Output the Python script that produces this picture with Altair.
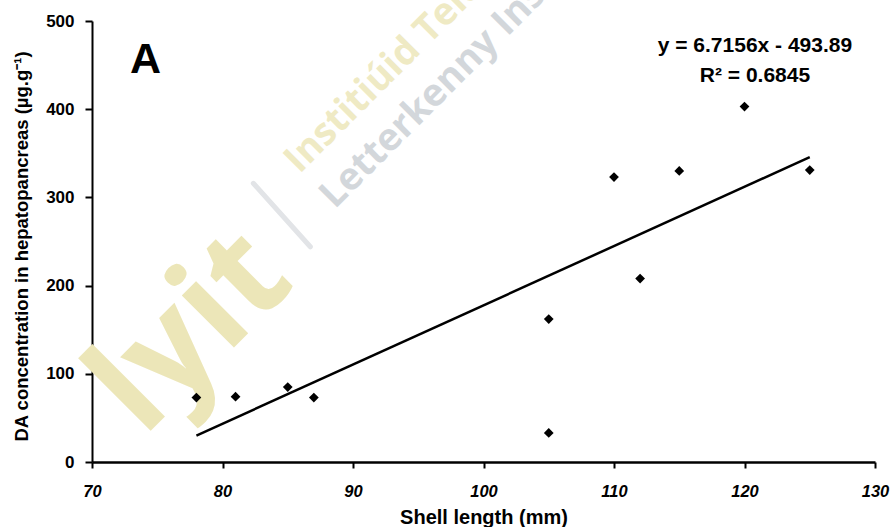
import altair as alt
import pandas as pd

# ---- data ----
shell_length = [78, 81, 85, 87, 105, 105, 110, 112, 115, 120, 125]
da_conc = [73, 74, 85, 73, 162, 33, 323, 208, 330, 403, 331]

# regression printed on the chart
slope, intercept = 6.7156, -493.89
fit_x = [78, 125]
fit_y = [slope * v + intercept for v in fit_x]

x_ticks = [70, 80, 90, 100, 110, 120, 130]
y_ticks = [0, 100, 200, 300, 400, 500]

eq_lines = ["y = 6.7156x - 493.89", "R² = 0.6845"]
eq_x = [120.8, 120.8]
eq_y = [465, 431]

panel_label = ["A"]
panel_x = [74.1]
panel_y = [441]

# watermark
wm_logo = ["lyit"]
wm_logo_x = [77.6]
wm_logo_y = [147]
wm_irish = ["Institiúid Teicneolaíochta Leitir Ceanainn"]
wm_irish_x = [85.9]
wm_irish_y = [326]
wm_eng = ["Letterkenny Institute of Technology"]
wm_eng_x = [88.6]
wm_eng_y = [286]
wm_bar_x = [82.36]
wm_bar_y = [316]
wm_bar_x2 = [86.73]
wm_bar_y2 = [244]

FONT = "Liberation Sans"

pts = pd.DataFrame({"x": shell_length, "y": da_conc})
fit = pd.DataFrame({"x": fit_x, "y": fit_y})
eq = pd.DataFrame({"x": eq_x, "y": eq_y, "t": eq_lines})
pan = pd.DataFrame({"x": panel_x, "y": panel_y, "t": panel_label})
logo = pd.DataFrame({"x": wm_logo_x, "y": wm_logo_y, "t": wm_logo})
irish = pd.DataFrame({"x": wm_irish_x, "y": wm_irish_y, "t": wm_irish})
eng = pd.DataFrame({"x": wm_eng_x, "y": wm_eng_y, "t": wm_eng})
bar = pd.DataFrame({"x": wm_bar_x, "y": wm_bar_y, "x2": wm_bar_x2, "y2": wm_bar_y2})

x_enc = alt.X(
    "x:Q",
    scale=alt.Scale(domain=[70, 130], nice=False, zero=False),
    axis=alt.Axis(
        values=x_ticks, title="Shell length (mm)", grid=False,
        labelFont=FONT, labelFontSize=16.5, labelFontWeight="bold",
        labelFontStyle="italic", labelColor="black", labelPadding=15,
        labelFlush=False,
        tickSize=6, tickWidth=2, tickColor="black",
        domainColor="black", domainWidth=2.5,
        titleFont=FONT, titleFontSize=20, titleFontWeight="bold",
        titleColor="black", titleBaseline="alphabetic", titleY=61,
    ),
)
y_enc = alt.Y(
    "y:Q",
    scale=alt.Scale(domain=[0, 500], nice=False, zero=True),
    axis=alt.Axis(
        values=y_ticks, title="DA concentration in hepatopancreas (µg.g⁻¹)",
        grid=False,
        labelFont=FONT, labelFontSize=17, labelFontWeight="bold",
        labelColor="black", labelPadding=11, labelFlush=False,
        tickSize=7, tickWidth=2, tickColor="black",
        domainColor="black", domainWidth=2,
        titleFont=FONT, titleFontSize=18.5, titleFontWeight="bold",
        titleColor="black", titleAngle=270, titleBaseline="alphabetic",
        titleAlign="center", titleX=-65, titleY=225,
    ),
)

bar_layer = alt.Chart(bar).mark_rule(
    color="#e2e4e7", strokeWidth=5, strokeCap="round"
).encode(x=x_enc, y=y_enc, x2="x2:Q", y2="y2:Q")

logo_layer = alt.Chart(logo).mark_text(
    font="Open Sans", fontWeight="bold", fontSize=135, angle=315,
    align="center", baseline="middle", color="#ece6b8",
).encode(x=x_enc, y=y_enc, text="t:N")

irish_layer = alt.Chart(irish).mark_text(
    font="Open Sans", fontWeight="bold", fontSize=38, angle=315,
    align="left", baseline="alphabetic", color="#efeac4",
).encode(x=x_enc, y=y_enc, text="t:N")

eng_layer = alt.Chart(eng).mark_text(
    font="Open Sans", fontWeight="bold", fontSize=38, angle=315,
    align="left", baseline="alphabetic", color="#d3d7db",
).encode(x=x_enc, y=y_enc, text="t:N")

fit_layer = alt.Chart(fit).mark_line(color="black", strokeWidth=2.5).encode(
    x=x_enc, y=y_enc
)

pts_layer = alt.Chart(pts).mark_point(
    shape="diamond", filled=True, size=95, color="black", opacity=1
).encode(x=x_enc, y=y_enc)

eq_layer = alt.Chart(eq).mark_text(
    font=FONT, fontWeight="bold", fontSize=21, color="black",
    align="center", baseline="alphabetic",
).encode(x=x_enc, y=y_enc, text="t:N")

pan_layer = alt.Chart(pan).mark_text(
    font=FONT, fontWeight="bold", fontSize=43, color="black",
    align="center", baseline="alphabetic",
).encode(x=x_enc, y=y_enc, text="t:N")

chart = alt.layer(
    bar_layer, logo_layer, irish_layer, eng_layer,
    fit_layer, pts_layer, eq_layer, pan_layer,
).properties(
    width=783, height=441,
    autosize=alt.AutoSizeParams(type="none"),
    padding={"left": 92, "top": 21, "right": 18, "bottom": 65},
    background="white",
).configure_view(stroke=None)

chart.save("out.html", embed_options={"renderer": "svg", "actions": False})
